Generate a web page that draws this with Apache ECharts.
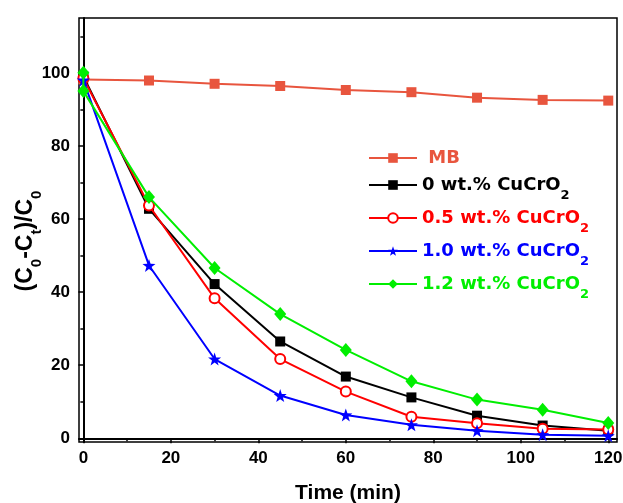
<!DOCTYPE html>
<html><head><meta charset="utf-8">
<script src="https://cdn.jsdelivr.net/npm/echarts@6/dist/echarts.min.js"></script>
<style>html,body{margin:0;padding:0;background:#fff}#c{width:623px;height:503px}</style>
</head><body><div id="c"></div>
<script>
const times = [0, 15, 30, 45, 60, 75, 90, 105, 120];
const mbValues = [98.2, 97.9, 97.0, 96.4, 95.3, 94.7, 93.2, 92.6, 92.4];
const wt0Values = [99.0, 62.8, 42.2, 26.5, 16.9, 11.2, 6.2, 3.5, 2.1];
const wt05Values = [98.5, 63.7, 38.3, 21.7, 12.8, 5.9, 4.1, 2.6, 2.4];
const wt10Values = [98.0, 47.3, 21.7, 11.7, 6.4, 3.7, 2.1, 1.0, 0.7];
const wt12Times = [0, 0, 15, 30, 45, 60, 75, 90, 105, 120];
const wt12Values = [100, 95.0, 66.0, 46.6, 34.0, 24.2, 15.6, 10.6, 7.8, 4.2];
const seriesNames = ['MB', '0 wt.% CuCrO2', '0.5 wt.% CuCrO2', '1.0 wt.% CuCrO2', '1.2 wt.% CuCrO2'];
const xMajorTicks = [0, 20, 40, 60, 80, 100, 120];
const xMinorTicks = [10, 30, 50, 70, 90, 110];
const yMajorTicks = [0, 20, 40, 60, 80, 100];
const yMinorTicks = [10, 30, 50, 70, 90, 110];

const colors = ['#e8553e', '#000000', '#ff0000', '#0000ff', '#00ee00'];
const star = 'path://M0,-10 L2.35,-3.24 L9.51,-3.09 L3.8,1.24 L5.88,8.09 L0,4 L-5.88,8.09 L-3.8,1.24 L-9.51,-3.09 L-2.35,-3.24Z';
const pairs = (xs, ys) => xs.map((x, i) => [x, ys[i]]);

const chart = echarts.init(document.getElementById('c'), null, {renderer: 'canvas'});
const labelFont = {fontFamily: 'Liberation Sans', fontWeight: 'bold', fontSize: 17, color: '#000'};
const axisLine = {show: true, lineStyle: {color: '#000', width: 2}};
const legendFont = 'DejaVu Sans';
const legendTops = [148, 175, 208, 241, 274];

function mkSeries(i, data, symbol, size, extra) {
  return Object.assign({
    name: seriesNames[i], type: 'line', data: data, symbol: symbol, symbolSize: size,
    lineStyle: {color: colors[i], width: 2}, itemStyle: {color: colors[i]},
    xAxisIndex: 0, yAxisIndex: 0, animation: false, z: 2 + i
  }, extra || {});
}

chart.setOption({
  animation: false,
  grid: {left: 79, right: 6, top: 18, bottom: 61, show: true, borderColor: '#000', borderWidth: 1.5,
    backgroundColor: 'transparent', containLabel: false, outerBoundsMode: 'none'},
  xAxis: [{
    type: 'value', min: -1, max: 122, gridIndex: 0,
    name: 'Time (min)', nameLocation: 'middle', nameGap: 41, nameMoveOverlap: false,
    nameTextStyle: {fontFamily: 'Liberation Sans', fontWeight: 'bold', fontSize: 21, color: '#000'},
    axisLine: axisLine, splitLine: {show: false},
    axisTick: {show: true, length: 5, inside: false, lineStyle: {color: '#000', width: 1.5}, customValues: xMajorTicks},
    axisLabel: Object.assign({margin: 8, customValues: xMajorTicks}, labelFont)
  }, {
    type: 'value', min: -1, max: 122, gridIndex: 0, position: 'bottom',
    axisLine: {show: false}, splitLine: {show: false}, axisLabel: {show: false},
    axisTick: {show: true, length: 3, lineStyle: {color: '#000', width: 1.5}, customValues: xMinorTicks}
  }],
  yAxis: [{
    type: 'value', min: -1, max: 115, gridIndex: 0,
    name: '(C{s|0}-C{s|t})/C{s|0}', nameLocation: 'middle', nameGap: 40, nameRotate: 90, nameMoveOverlap: false,
    nameTextStyle: {fontFamily: 'Liberation Sans', fontWeight: 'bold', fontSize: 23, color: '#000', lineHeight: 26,
      padding: [0, 22, 0, 0],
      rich: {s: {fontFamily: 'Liberation Sans', fontWeight: 'bold', fontSize: 15, color: '#000', verticalAlign: 'top', padding: [16, 0, 0, 0]}}},
    axisLine: axisLine, splitLine: {show: false},
    axisTick: {show: true, length: 5, lineStyle: {color: '#000', width: 1.5}, customValues: yMajorTicks},
    axisLabel: Object.assign({margin: 9, customValues: yMajorTicks}, labelFont)
  }, {
    type: 'value', min: -1, max: 115, gridIndex: 0, position: 'left',
    axisLine: {show: false}, splitLine: {show: false}, axisLabel: {show: false},
    axisTick: {show: true, length: 3, lineStyle: {color: '#000', width: 1.5}, customValues: yMinorTicks}
  }],
  legend: seriesNames.map((n, i) => ({
    orient: 'vertical', left: 368, top: legendTops[i], padding: 0, itemGap: 0, itemWidth: 48, itemHeight: 12,
    data: [{name: n, textStyle: {color: colors[i]}}],
    formatter: s => s === 'MB' ? ' MB' : s.replace('CuCrO2', 'CuCrO{s|2}'),
    textStyle: {fontFamily: legendFont, fontWeight: 'bold', fontSize: 18, lineHeight: 20,
      rich: {s: {fontFamily: legendFont, fontWeight: 'bold', fontSize: 13, color: colors[i], verticalAlign: 'top', padding: [14, 0, 0, 0]}}}
  })),
  series: [
    mkSeries(0, pairs(times, mbValues), 'rect', 10),
    mkSeries(1, pairs(times, wt0Values), 'rect', 10),
    mkSeries(2, pairs(times, wt05Values), 'emptyCircle', 10, {itemStyle: {color: colors[2], borderWidth: 1.5}}),
    mkSeries(3, pairs(times, wt10Values), star, 13),
    mkSeries(4, pairs(wt12Times, wt12Values), 'diamond', [12, 14])
  ]
});
</script></body></html>
